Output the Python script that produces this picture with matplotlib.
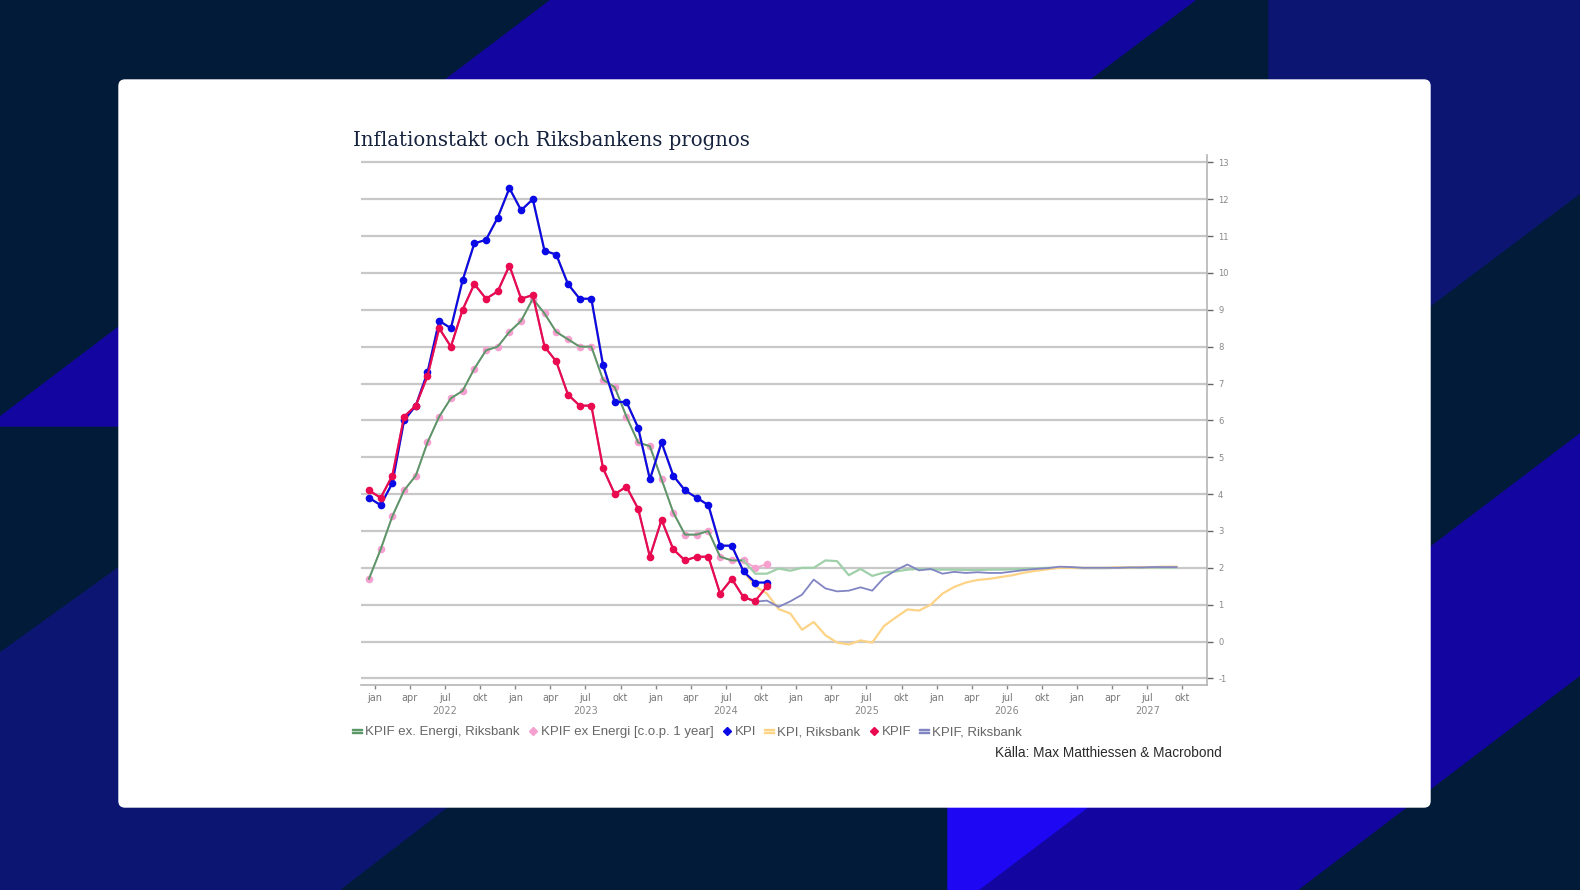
import matplotlib
matplotlib.use('Agg')
import matplotlib.pyplot as plt
from matplotlib.patches import Polygon, FancyBboxPatch
from matplotlib.lines import Line2D
import numpy as np

plt.rcParams['axes.unicode_minus'] = False

# manadsdata, index 0 = dec 2021
kpi = [3.9, 3.7, 4.3, 6.0, 6.4, 7.3, 8.7, 8.5, 9.8, 10.8, 10.9, 11.5, 12.3, 11.7, 12.0,
       10.6, 10.5, 9.7, 9.3, 9.3, 7.5, 6.5, 6.5, 5.8, 4.4, 5.4, 4.5, 4.1, 3.9, 3.7,
       2.6, 2.6, 1.9, 1.6, 1.6]
kpif = [4.1, 3.9, 4.5, 6.1, 6.4, 7.2, 8.5, 8.0, 9.0, 9.7, 9.3, 9.5, 10.2, 9.3, 9.4,
        8.0, 7.6, 6.7, 6.4, 6.4, 4.7, 4.0, 4.2, 3.6, 2.3, 3.3, 2.5, 2.2, 2.3, 2.3,
        1.3, 1.7, 1.2, 1.1, 1.5]
kpif_ex = [1.7, 2.5, 3.4, 4.1, 4.5, 5.4, 6.1, 6.6, 6.8, 7.4, 7.9, 8.0, 8.4, 8.7, 9.3,
           8.9, 8.4, 8.2, 8.0, 8.0, 7.1, 6.9, 6.1, 5.4, 5.3, 4.4, 3.5, 2.9, 2.9, 3.0,
           2.3, 2.2, 2.2, 2.0, 2.1]

# Riksbankens prognoser fran index 33 (sep 2024) till 69 (sep 2027)
kpif_ex_rb_prog = [1.84, 1.84, 1.98, 1.92, 2.0, 2.0, 2.2, 2.18, 1.8, 1.97, 1.78, 1.87,
                   1.9, 1.95, 1.97, 1.96, 1.95, 1.95, 1.94, 1.94, 1.95, 1.95, 1.96,
                   1.97, 1.98, 2.0, 2.0, 2.0, 1.99, 1.99, 1.99, 2.0, 2.0, 2.01, 2.01,
                   2.01, 2.01]
kpi_rb_prog = [1.5, 1.3, 0.88, 0.76, 0.32, 0.53, 0.17, -0.03, -0.08, 0.03, -0.03, 0.42,
               0.65, 0.87, 0.84, 1.0, 1.3, 1.48, 1.6, 1.67, 1.7, 1.75, 1.8, 1.87, 1.92,
               1.96, 2.0, 2.0, 2.0, 2.0, 2.0, 2.01, 2.01, 2.02, 2.02, 2.03, 2.03]
kpif_rb_prog = [1.08, 1.11, 0.94, 1.09, 1.27, 1.68, 1.44, 1.36, 1.38, 1.47, 1.38, 1.73,
                1.93, 2.09, 1.93, 1.97, 1.84, 1.89, 1.86, 1.88, 1.86, 1.86, 1.9, 1.94,
                1.97, 1.99, 2.03, 2.02, 2.0, 2.0, 2.0, 2.0, 2.01, 2.01, 2.02, 2.02, 2.02]

n_utfall = 33  # Riksbanken anvander utfall t.o.m. aug 2024
kpif_ex_rb = kpif_ex[:n_utfall] + kpif_ex_rb_prog
kpi_rb = kpi[:n_utfall] + kpi_rb_prog
kpif_rb = kpif[:n_utfall] + kpif_rb_prog

month_labels = ['jan', 'apr', 'jul', 'okt'] * 6
years = ['2022', '2023', '2024', '2025', '2026', '2027']

c_green = '#5a9868'
c_green_light = '#9fd0aa'
c_pink = '#f6a0d0'
c_blue = '#0a0ae6'
c_yellow = '#fdd386'
c_red = '#ea0a50'
c_purple = '#8185c2'

W, H = 1580, 890
fig = plt.figure(figsize=(W / 100, H / 100), dpi=100)

# bakgrund
bg = fig.add_axes([0, 0, 1, 1])
bg.set_xlim(0, W)
bg.set_ylim(H, 0)
bg.axis('off')
bg.add_patch(Polygon([(0, 0), (W, 0), (W, H), (0, H)], color='#021b39'))
bg.add_patch(Polygon([(551, 0), (1195, 0), (628, 426), (0, 426), (0, 417)], color='#1306a0'))
bg.add_patch(Polygon([(1269, 0), (W, 0), (W, 193), (1269, 427)], color='#0c1672'))
bg.add_patch(Polygon([(W, 434), (W, 675), (1297, H), (978, H)], color='#1306a0'))
bg.add_patch(Polygon([(948, 700), (948, H), (978, H), (1229, 700)], color='#1e08f4'))
bg.add_patch(Polygon([(0, 653), (0, H), (339, H), (846, 500), (213, 500)], color='#0c1672'))
bg.add_patch(FancyBboxPatch((119, 80), 1311, 727, boxstyle='round,pad=0,rounding_size=6',
                            color='white'))

ax = fig.add_axes([361 / W, 1 - 685 / H, (1207 - 361) / W, (685 - 155) / H])
ax.set_facecolor('none')

x = np.arange(len(kpi))
xr = np.arange(len(kpi_rb))

ax.plot(x, kpif_ex, color=c_pink, lw=1.2, marker='o', ms=5.5, mec='none', zorder=3)
ax.plot(xr[:n_utfall], kpif_ex_rb[:n_utfall], color=c_green, lw=1.4, zorder=4)
ax.plot(xr[n_utfall - 1:], kpif_ex_rb[n_utfall - 1:], color=c_green_light, lw=1.6, zorder=4)
ax.plot(xr, kpi_rb, color=c_yellow, lw=1.6, zorder=5)
ax.plot(xr, kpif_rb, color=c_purple, lw=1.3, zorder=5)
ax.plot(x, kpi, color=c_blue, lw=1.6, marker='o', ms=5.5, mec='none', zorder=6)
ax.plot(x, kpif, color=c_red, lw=1.6, marker='o', ms=5.5, mec='none', zorder=7)

ax.set_xlim(-0.68, 71.6)
ax.set_ylim(-1.18, 13.2)

ax.set_yticks(range(-1, 14))
ax.yaxis.tick_right()
ax.yaxis.grid(True, color='#c8c8c8', lw=1.6)
ax.set_axisbelow(True)
ax.tick_params(axis='y', length=4, width=1, color='#666666', labelsize=6,
               labelcolor='#888888', pad=4)

tick_pos = np.arange(0.5, 70, 3)
ax.set_xticks(tick_pos)
ax.set_xticklabels(month_labels)
ax.tick_params(axis='x', length=3, width=1, color='#888888', labelsize=7,
               labelcolor='#777777', pad=3)
for i, yr in enumerate(years):
    ax.text(6.5 + 12 * i, -0.05, yr, transform=ax.get_xaxis_transform(),
            ha='center', va='center', fontsize=7, color='#888888')

for s in ['left', 'top']:
    ax.spines[s].set_visible(False)
for s in ['right', 'bottom']:
    ax.spines[s].set_color('#b5b5b5')
    ax.spines[s].set_linewidth(1.2)

fig.text(353 / W, 1 - 146 / H, 'Inflationstakt och Riksbankens prognos',
         family='DejaVu Serif', fontsize=14.2, color='#16233f', va='baseline')

handles = [
    Line2D([], [], color=c_green, marker='$=$', ls='None', ms=7),
    Line2D([], [], color=c_pink, marker='D', ls='None', ms=4),
    Line2D([], [], color=c_blue, marker='D', ls='None', ms=4),
    Line2D([], [], color=c_yellow, marker='$=$', ls='None', ms=7),
    Line2D([], [], color=c_red, marker='D', ls='None', ms=4),
    Line2D([], [], color=c_purple, marker='$=$', ls='None', ms=7),
]
labels = ['KPIF ex. Energi, Riksbank', 'KPIF ex Energi [c.o.p. 1 year]', 'KPI',
          'KPI, Riksbank', 'KPIF', 'KPIF, Riksbank']
fig.legend(handles, labels, loc='center left', bbox_to_anchor=(352 / W, 1 - 732 / H),
           ncol=6, frameon=False, handlelength=0.8, handletextpad=0.2,
           columnspacing=0.6, labelcolor='#666666',
           borderaxespad=0, borderpad=0, prop={'family': 'Liberation Sans', 'size': 9.5})

fig.text(1222 / W, 1 - 753 / H, 'Källa: Max Matthiessen & Macrobond', ha='right',
         va='center', family='Liberation Sans', fontsize=9.8, color='#2a2a2a')

fig.savefig('out.png', dpi=100)
